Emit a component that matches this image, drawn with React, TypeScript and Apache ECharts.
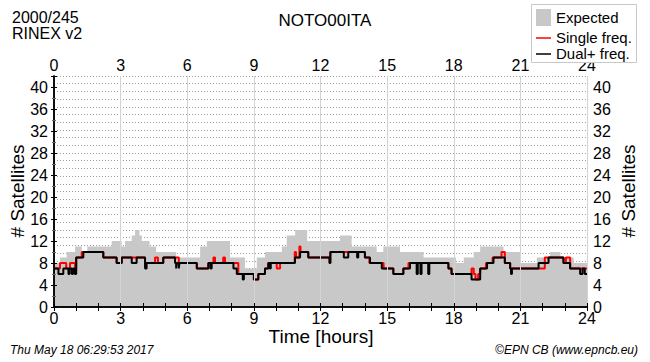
import React, { useEffect, useRef } from "react";
import * as echarts from "echarts";

// Expected satellites: value holds from hour[i] until hour[i+1]
const expectedHours = [0, 0.27, 0.57, 0.95, 1.25, 1.5, 2.6, 3.05, 3.2, 3.5, 3.65, 3.85, 3.95, 4.3, 4.6, 5.5, 6.58, 6.88, 7.93, 8.6, 9.13, 9.5, 10.26, 10.48, 10.86, 11.4, 12.88, 13.4, 14.53, 14.83, 15.58, 16.64, 18.1, 18.45, 18.9, 19.19, 20.24, 21.0, 21.74, 22.34, 22.8, 23.4];
const expectedCounts = [8, 9, 10, 11, 10, 11, 12, 11, 12, 13, 14, 13, 12, 11, 10, 9, 11, 12, 9, 7, 9, 10, 11, 13, 14, 12, 13, 11, 10, 11, 10, 9, 8, 9, 10, 11, 10, 8, 9, 10, 9, 8];

// Single frequency satellites
const singleHours = [0, 0.27, 0.55, 0.72, 0.95, 1.0, 1.25, 2.22, 2.82, 3.05, 4.1, 4.55, 4.68, 4.92, 5.62, 6.43, 6.95, 7.18, 7.25, 7.62, 7.7, 8.3, 9.0, 9.2, 9.5, 9.65, 10.03, 10.18, 10.84, 10.9, 11.05, 11.1, 11.45, 12.43, 14.0, 14.2, 14.84, 15.28, 15.73, 15.96, 17.76, 17.9, 18.8, 18.9, 18.98, 19.1, 19.19, 19.45, 19.75, 20.15, 20.3, 20.54, 22.1, 22.94, 23.05, 23.24, 23.69];
const singleCounts = [7, 8, 7, 8, 7, 9, 10, 9, 8, 9, 8, 9, 8, 9, 8, 7, 8, 9, 8, 9, 8, 6, 5, 6, 7, 8, 7, 8, 10, 9, 11, 10, 9, 10, 9, 8, 7, 6, 7, 8, 7, 6, 7, 6, 5, 6, 7, 8, 9, 10, 8, 7, 9, 8, 9, 7, 7];

// Dual+ frequency satellites
const dualHours = [0, 0.2, 0.42, 0.65, 0.7, 0.8, 0.85, 0.93, 1.0, 1.32, 2.22, 2.82, 3.05, 3.5, 3.72, 4.1, 4.17, 4.92, 5.45, 5.5, 5.53, 5.62, 5.65, 6.43, 6.95, 7.05, 7.1, 8.08, 8.23, 8.5, 8.55, 9.0, 9.2, 9.5, 9.65, 9.72, 9.76, 10.85, 11.08, 11.45, 12.4, 12.45, 13.05, 13.25, 13.65, 13.7, 14.0, 14.23, 14.76, 15.28, 15.73, 16.03, 16.33, 16.38, 16.5, 16.55, 16.85, 16.9, 17.76, 17.9, 18.8, 19.19, 19.5, 19.79, 20.3, 20.54, 20.58, 20.62, 21.82, 22.27, 22.94, 23.24, 23.69, 23.8, 23.9];
const dualCounts = [7, 6, 7, 6, 7, 6, 7, 6, 9, 10, 9, 8, 9, 8, 9, 7, 8, 9, 8, 7, 8, 7, 8, 7, 8, 7, 8, 7, 6, 5, 6, 5, 6, 7, 8, 7, 8, 9, 10, 9, 8, 10, 9, 10, 9, 10, 9, 8, 7, 6, 7, 8, 6, 8, 6, 8, 6, 8, 7, 6, 5, 7, 8, 9, 8, 7, 6, 7, 8, 9, 8, 7, 6, 7, 6];

const xTicks = [0, 3, 6, 9, 12, 15, 18, 21, 24];
const yTicks = [0, 4, 8, 12, 16, 20, 24, 28, 32, 36, 40];

const FONT = "Liberation Sans, Arial, Helvetica, sans-serif";

function toSteps(hours: number[], counts: number[]) {
  const d = hours.map((h, i) => [h, counts[i]]);
  d.push([24, counts[counts.length - 1]]);
  return d;
}

export default function App() {
  const ref = useRef<HTMLDivElement>(null);
  useEffect(() => {
    if (!ref.current) return;
    const chart = echarts.init(ref.current, null, { renderer: "svg" });
    const xCommon = (pos: "top" | "bottom") => ({
      type: "value",
      position: pos,
      min: xTicks[0],
      max: xTicks[xTicks.length - 1],
      interval: 3,
      z: 10,
      axisLine: { show: true, lineStyle: { color: "#000", width: 1.5 } },
      axisTick: { show: true, inside: true, length: 4, lineStyle: { color: "#000" } },
      minorTick: { show: true, splitNumber: 3, length: 4, lineStyle: { color: "#000" } },
      axisLabel: { fontSize: 16, color: "#000", fontFamily: FONT, margin: 3 },
    });
    const yCommon = (pos: "left" | "right") => ({
      type: "value",
      position: pos,
      min: 0,
      max: 42,
      interval: 4,
      z: 10,
      axisLine: { show: true, lineStyle: { color: "#000", width: 1.5 } },
      axisTick: { show: true, inside: true, length: 3, lineStyle: { color: "#000" } },
      minorTick: { show: true, splitNumber: 2, length: 2, lineStyle: { color: "#666" } },
      splitLine: { show: false },
      axisLabel: {
        fontSize: 16,
        color: "#000",
        fontFamily: FONT,
        margin: 6,
        formatter: (v: number) => (yTicks.indexOf(v) >= 0 ? String(v) : ""),
      },
    });
    const nameStyle = { fontSize: 19, fill: "#000", fontFamily: FONT, align: "center", verticalAlign: "middle" };
    chart.setOption({
      animation: false,
      backgroundColor: "#fff",
      grid: { left: 54, right: 63, top: 76, bottom: 55, containLabel: false, outerBoundsMode: "none" },
      xAxis: [
        {
          ...xCommon("bottom"),
          splitLine: { show: true, lineStyle: { color: "#d4d4d4", width: 1 } },
        },
        { ...xCommon("top"), splitLine: { show: false } },
      ],
      yAxis: [
        yCommon("left"),
        yCommon("right"),
        {
          type: "value",
          min: 0,
          max: 42,
          interval: 1.4,
          axisLine: { show: false },
          axisTick: { show: false },
          axisLabel: { show: false },
          splitLine: { show: true, lineStyle: { color: "#9a9a9a", width: 1, type: [1, 2] } },
        },
      ],
      series: [
        {
          name: "Expected",
          type: "line",
          step: "end",
          symbol: "none",
          data: toSteps(expectedHours, expectedCounts),
          lineStyle: { width: 0, color: "#c8c8c8" },
          itemStyle: { color: "#c8c8c8" },
          areaStyle: { color: "#c8c8c8", opacity: 1 },
          z: 2,
        },
        {
          name: "Single freq.",
          type: "line",
          step: "end",
          symbol: "none",
          data: toSteps(singleHours, singleCounts),
          lineStyle: { width: 2, color: "#ff0000" },
          itemStyle: { color: "#ff0000" },
          z: 3,
        },
        {
          name: "Dual+ freq.",
          type: "line",
          step: "end",
          symbol: "none",
          data: toSteps(dualHours, dualCounts),
          lineStyle: { width: 2, color: "#000" },
          itemStyle: { color: "#000" },
          z: 4,
        },
      ],
      graphic: [
        { type: "text", left: 12, top: 9, style: { text: "2000/245", fontSize: 16, fill: "#000", fontFamily: FONT } },
        { type: "text", left: 12, top: 25, style: { text: "RINEX v2", fontSize: 16, fill: "#000", fontFamily: FONT } },
        { type: "text", x: 325, y: 20, style: { text: "NOTO00ITA", fontSize: 17, fill: "#000", fontFamily: FONT, align: "center", verticalAlign: "middle" } },
        { type: "text", x: 17, y: 191, rotation: Math.PI / 2, style: { text: "# Satellites", ...nameStyle } },
        { type: "text", x: 628, y: 191, rotation: Math.PI / 2, style: { text: "# Satellites", ...nameStyle } },
        { type: "text", x: 321, y: 336, style: { text: "Time [hours]", ...nameStyle } },
        { type: "rect", shape: { x: 531.5, y: 4.5, width: 105, height: 58 }, style: { fill: "#fff", stroke: "#c8c8c8", lineWidth: 1 }, z: 20 },
        { type: "rect", shape: { x: 536, y: 9, width: 15, height: 17 }, style: { fill: "#c8c8c8" }, z: 21 },
        { type: "line", shape: { x1: 536, y1: 38, x2: 551, y2: 38 }, style: { stroke: "#ff0000", lineWidth: 1.5 }, z: 21 },
        { type: "line", shape: { x1: 536, y1: 54, x2: 551, y2: 54 }, style: { stroke: "#000", lineWidth: 1.5 }, z: 21 },
        { type: "text", x: 556, y: 17, style: { text: "Expected", fontSize: 15, fill: "#000", fontFamily: FONT, verticalAlign: "middle" }, z: 21 },
        { type: "text", x: 556, y: 37, style: { text: "Single freq.", fontSize: 15, fill: "#000", fontFamily: FONT, verticalAlign: "middle" }, z: 21 },
        { type: "text", x: 556, y: 53, style: { text: "Dual+ freq.", fontSize: 15, fill: "#000", fontFamily: FONT, verticalAlign: "middle" }, z: 21 },
        { type: "text", x: 10, y: 350, style: { text: "Thu May 18 06:29:53 2017", fontSize: 12, fontStyle: "italic", fill: "#000", fontFamily: FONT, verticalAlign: "middle" } },
        { type: "text", x: 638, y: 350, style: { text: "\u00A9EPN CB (www.epncb.eu)", fontSize: 12, fontStyle: "italic", fill: "#000", fontFamily: FONT, align: "right", verticalAlign: "middle" } },
      ],
    });
    return () => chart.dispose();
  }, []);
  return (
    <div
      ref={ref}
      style={{ position: "absolute", left: 0, top: 0, width: 650, height: 362 }}
    />
  );
}
